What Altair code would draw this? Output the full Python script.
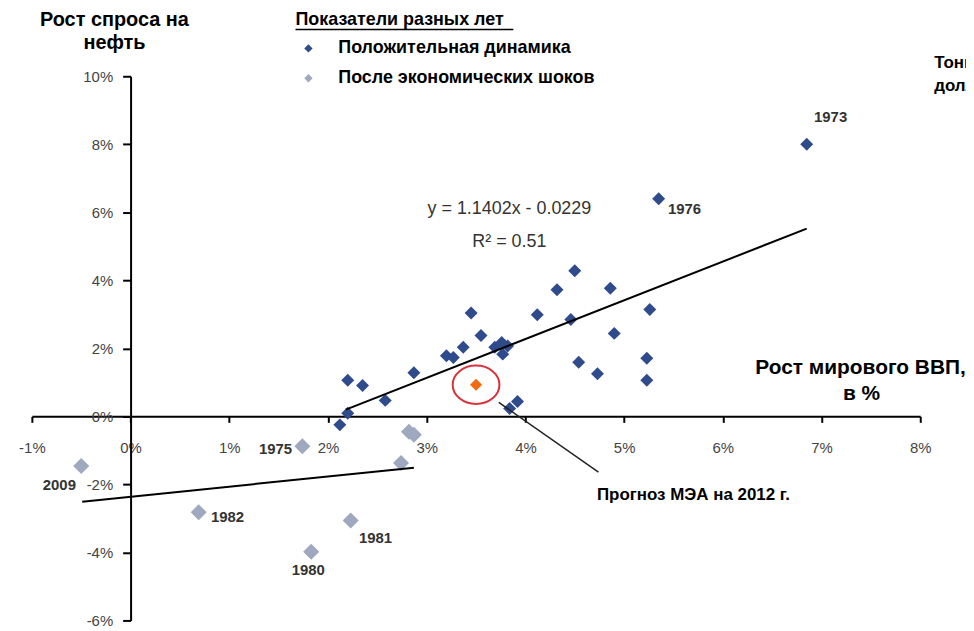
import altair as alt
import pandas as pd

# ---------------- data ----------------
groups = ["Положительная динамика", "После экономических шоков"]

pos_x = [6.85, 5.35, 4.50, 4.32, 4.86, 5.26, 3.45, 4.12, 4.46, 3.55, 4.90, 3.37, 3.20, 3.27,
         3.76, 3.69, 3.82, 3.77, 5.23, 4.54, 4.73, 5.23, 2.87, 2.20, 2.35, 2.58, 3.92, 3.84,
         2.20, 2.12]
pos_y = [8.00, 6.40, 4.28, 3.72, 3.77, 3.14, 3.04, 2.99, 2.85, 2.38, 2.44, 2.03, 1.78, 1.73,
         2.17, 2.03, 2.07, 1.83, 1.71, 1.59, 1.25, 1.06, 1.28, 1.06, 0.91, 0.47, 0.44, 0.23,
         0.09, -0.25]

shock_x = [-0.50, 0.69, 1.83, 2.23, 1.74, 2.82, 2.87, 2.74]
shock_y = [-1.46, -2.82, -3.98, -3.06, -0.88, -0.45, -0.54, -1.37]

forecast_x = [3.50]
forecast_y = [0.93]

year_labels = ["1973", "1976", "1975", "2009", "1982", "1981", "1980"]
year_x = [6.85, 5.35, 1.74, -0.50, 0.69, 2.23, 1.83]
year_y = [8.00, 6.40, -0.88, -1.46, -2.82, -3.06, -3.98]

trend_main_x = [2.18, 6.85]
trend_main_y = [0.20, 5.52]
trend_shock_x = [-0.49, 2.87]
trend_shock_y = [-2.51, -1.51]
pointer_x = [3.73, 4.74]
pointer_y = [0.41, -1.64]

x_ticks = [-1, 0, 1, 2, 3, 4, 5, 6, 7, 8]
y_ticks = [-6, -4, -2, 0, 2, 4, 6, 8, 10]

# ---------------- layout / style ----------------
W, H = 893, 547
FONT = "Liberation Sans"
DARK = "#2f4b8c"
LIGHT = "#9ea9bf"

x_scale = alt.Scale(domain=[-1, 8], nice=False, zero=False)
y_scale = alt.Scale(domain=[-6, 10], nice=False, zero=False)

x_axis = alt.Axis(values=x_ticks, labelExpr="datum.value + '%'", offset=-H * 6 / 16,
                  grid=False, title=None, domainColor="black", domainWidth=2,
                  tickColor="black", tickWidth=2, tickSize=6, labelPadding=18,
                  labelFont=FONT, labelFontSize=15, labelColor="#444",
                  labelFlush=False, labelOverlap=False)
y_axis = alt.Axis(values=y_ticks, labelExpr="datum.value + '%'", offset=-W / 9,
                  grid=False, title=None, domainColor="black", domainWidth=2,
                  tickColor="black", tickWidth=2, tickSize=8, labelPadding=10,
                  labelFont=FONT, labelFontSize=15, labelColor="#444",
                  labelFlush=False, labelOverlap=False)

X = alt.X("x:Q", scale=x_scale, axis=x_axis)
Y = alt.Y("y:Q", scale=y_scale, axis=y_axis)

color_enc = alt.Color(
    "group:N",
    scale=alt.Scale(domain=groups, range=[DARK, LIGHT]),
    legend=alt.Legend(
        title="Показатели разных лет", orient="none", legendX=265, legendY=-66,
        titleFont=FONT, titleFontSize=18, titleFontWeight="bold", titleColor="black",
        titlePadding=11, labelFont=FONT, labelFontSize=18, labelFontWeight="bold",
        labelColor="black", labelOffset=21, symbolSize=70, symbolType="diamond",
        symbolOffset=4, rowPadding=12, symbolStrokeWidth=0, labelLimit=400,
        titleLimit=400, padding=0),
)

pos_df = pd.DataFrame({"x": pos_x, "y": pos_y, "group": groups[0]})
shock_df = pd.DataFrame({"x": shock_x, "y": shock_y, "group": groups[1]})
fc_df = pd.DataFrame({"x": forecast_x, "y": forecast_y})
lines_df = pd.DataFrame({
    "x": trend_main_x + trend_shock_x,
    "y": trend_main_y + trend_shock_y,
    "line": ["main"] * 2 + ["shock"] * 2,
})
pointer_df = pd.DataFrame({"x": pointer_x, "y": pointer_y})
years_df = pd.DataFrame({"x": year_x, "y": year_y, "year": year_labels})

layers = []

layers.append(alt.Chart(shock_df).mark_point(shape="diamond", filled=True, size=260, opacity=1)
              .encode(x=X, y=Y, color=color_enc))
layers.append(alt.Chart(pos_df).mark_point(shape="diamond", filled=True, size=170, opacity=1)
              .encode(x=X, y=Y, color=color_enc))

layers.append(alt.Chart(lines_df).mark_line(color="black", strokeWidth=2)
              .encode(x=X, y=Y, detail="line:N"))
layers.append(alt.Chart(pointer_df).mark_line(color="#222", strokeWidth=1.5)
              .encode(x=X, y=Y))

layers.append(alt.Chart(fc_df).mark_point(shape="diamond", filled=True, size=150, opacity=1,
                                          color="#f36a10")
              .encode(x=X, y=Y))
ellipse = "M -1 0 A 1 0.82 0 1 1 1 0 A 1 0.82 0 1 1 -1 0 Z"
layers.append(alt.Chart(fc_df).mark_point(shape=ellipse, filled=False, size=47 ** 2, opacity=1,
                                          color="#d8333b", strokeWidth=2)
              .encode(x=X, y=Y))

# year labels, offset from their points
year_offsets = {"1973": (24, -27), "1976": (26, 10), "1975": (-27, 3), "2009": (-22, 19),
                "1982": (29, 5), "1981": (25, 18), "1980": (-3, 18)}
for yr, (dx, dy) in year_offsets.items():
    layers.append(alt.Chart(years_df).transform_filter(alt.datum.year == yr)
                  .mark_text(font=FONT, fontSize=15, fontWeight="bold", color="#333",
                             dx=dx, dy=dy, align="center", baseline="middle")
                  .encode(x=X, y=Y, text="year:N"))

# annotations (view coordinates)
def note(text, px, py, size=17, weight="bold", color="black", align="center"):
    return (alt.Chart(alt.Data(values=[{}]))
            .mark_text(text=text, font=FONT, fontSize=size, fontWeight=weight, color=color,
                       align=align, baseline="middle")
            .encode(x=alt.value(px), y=alt.value(py)))

layers += [
    note("Рост спроса на", 83, -57, size=20),
    note("нефть", 83, -33, size=20),
    note("Рост мирового ВВП,", 833, 293, size=21),
    note("в %", 834, 319, size=21),
    note("Прогноз МЭА на 2012 г.", 665, 421, size=17),
    note("Тонн", 907, -13, size=17, align="left"),
    note("долл", 907, 10, size=17, align="left"),
    note("y = 1.1402x - 0.0229", 480, 133, size=18, weight="normal", color="#333"),
    note("R² = 0.51", 480, 167, size=18, weight="normal", color="#333"),
]
# underline of the legend title
layers.append(alt.Chart(alt.Data(values=[{}])).mark_rule(color="black", strokeWidth=1.5)
              .encode(x=alt.value(265), x2=alt.value(484), y=alt.value(-47)))

chart = (alt.layer(*layers)
         .properties(width=W, height=H,
                     autosize=alt.AutoSizeParams(type="none"),
                     padding={"left": 24, "top": 67, "right": 46, "bottom": 8})
         .configure(background="white", view=alt.ViewConfig(stroke=None)))

chart.save("out.html", embed_options={"renderer": "svg", "actions": False})
